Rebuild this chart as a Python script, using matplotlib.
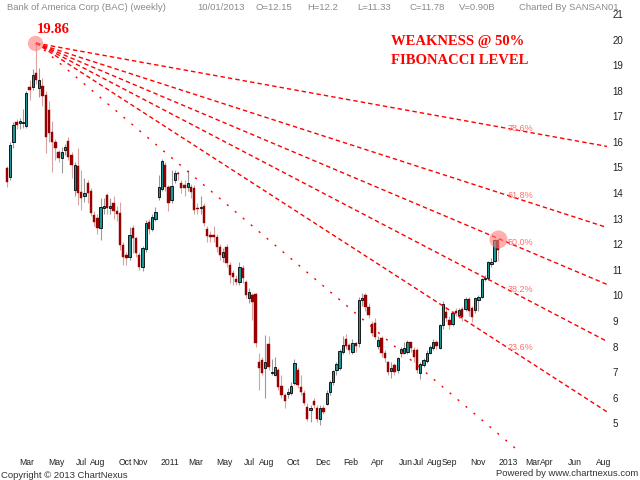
import matplotlib
matplotlib.use("Agg")
import matplotlib.pyplot as plt
import matplotlib.dates as mdates
import matplotlib.transforms as mtransforms
import numpy as np
import pandas as pd

# weekly BAC candles, week starting 2010-02-08
opens = [14.98, 14.63, 16.00, 16.78, 16.75, 16.72, 16.62, 18.15, 18.15, 18.70,
         18.11, 18.20, 17.83, 17.25, 16.40, 16.00, 15.60, 15.37, 15.70, 16.04,
         15.49, 14.12, 15.06, 14.04, 13.90, 14.39, 14.08, 13.14, 13.03, 12.63,
         13.40, 13.92, 13.42, 13.60, 13.30, 13.22, 11.97, 11.58, 11.50, 12.63,
         12.24, 11.58, 11.11, 11.81, 12.87, 12.60, 12.99, 13.85, 14.16, 15.10,
         14.24, 13.73, 14.51, 14.78, 14.39, 14.31, 14.24, 14.24, 14.20, 13.42,
         13.42, 13.49, 12.60, 12.36, 12.36, 12.28, 11.89, 11.50, 11.89, 11.19,
         10.87, 10.64, 10.52, 11.07, 10.52, 9.90, 10.00, 10.05, 7.40, 7.47,
         7.16, 8.10, 6.97, 6.89, 7.08, 6.46, 6.10, 6.14, 6.18, 6.57,
         7.08, 6.42, 6.18, 5.64, 5.52, 5.87, 5.60, 5.17, 5.60, 5.75,
         6.22, 6.61, 7.08, 7.16, 7.79, 8.30, 8.06, 7.79, 8.14, 8.14,
         9.82, 10.00, 9.55, 8.88, 8.92, 8.02, 8.33, 7.75, 7.40, 7.04,
         7.28, 7.08, 7.75, 7.75, 7.79, 8.18, 7.86, 7.86, 6.97, 7.28,
         7.44, 7.75, 7.94, 8.18, 7.94, 8.84, 9.35, 9.04, 8.88, 9.39,
         9.23, 9.47, 9.47, 9.86, 9.50, 9.43, 9.82, 9.94, 10.64, 10.68,
         11.22, 11.34, 12.15]
highs = [15.05, 16.00, 16.78, 16.90, 16.95, 17.30, 18.00, 18.40, 18.85, 19.86,
         18.90, 18.50, 18.00, 17.60, 16.80, 16.10, 15.70, 15.80, 15.90, 16.20,
         15.60, 15.20, 15.76, 14.90, 14.60, 14.50, 14.20, 13.30, 13.20, 13.80,
         13.80, 14.00, 13.80, 13.90, 13.50, 13.65, 12.10, 11.70, 12.67, 12.75,
         12.30, 11.70, 11.95, 12.95, 13.00, 13.20, 13.45, 14.70, 15.35, 15.20,
         14.30, 14.90, 14.90, 14.85, 14.50, 14.50, 14.90, 14.35, 14.30, 13.60,
         13.90, 13.60, 12.70, 12.50, 12.70, 12.40, 12.00, 11.85, 12.00, 11.30,
         11.00, 10.80, 11.30, 11.20, 10.60, 10.30, 10.10, 10.10, 7.75, 7.60,
         8.45, 8.42, 7.50, 7.60, 7.15, 6.90, 6.20, 6.40, 6.60, 7.50,
         7.20, 6.90, 6.30, 5.80, 5.72, 6.00, 5.70, 5.70, 5.70, 6.30,
         6.70, 7.10, 7.40, 7.90, 8.40, 8.50, 8.15, 8.30, 8.20, 9.95,
         10.10, 10.10, 9.70, 9.00, 9.10, 8.40, 8.40, 7.85, 7.45, 7.40,
         7.35, 7.60, 8.00, 8.20, 8.25, 8.20, 8.00, 7.95, 7.40, 7.55,
         7.85, 8.05, 8.30, 8.25, 8.90, 9.79, 9.50, 9.20, 9.40, 9.50,
         9.50, 9.55, 9.95, 9.95, 9.60, 9.95, 10.00, 10.70, 10.80, 11.35,
         11.45, 12.20, 12.20]
lows = [14.24, 14.50, 15.76, 16.50, 16.50, 16.55, 16.55, 17.64, 18.03, 18.25,
        17.76, 17.40, 15.57, 16.00, 14.82, 15.30, 15.20, 14.78, 15.50, 15.30,
        14.60, 13.90, 13.53, 13.34, 13.65, 13.60, 13.10, 12.70, 12.40, 12.16,
        13.20, 13.20, 13.20, 13.00, 12.90, 11.77, 11.19, 11.20, 11.38, 11.66,
        11.50, 11.00, 10.95, 11.70, 12.40, 12.50, 12.90, 13.73, 14.10, 14.10,
        13.30, 13.60, 14.40, 14.50, 14.00, 13.90, 14.10, 13.80, 13.20, 13.20,
        13.20, 12.70, 12.10, 12.10, 12.10, 11.70, 11.40, 11.30, 11.10, 10.50,
        10.40, 10.40, 10.40, 10.50, 9.90, 9.70, 9.04, 8.00, 6.30, 6.90,
        5.99, 7.10, 6.90, 6.85, 6.30, 6.00, 5.60, 6.00, 6.10, 6.50,
        6.40, 6.10, 5.70, 5.10, 5.05, 5.60, 5.05, 4.92, 5.35, 5.70,
        6.10, 6.50, 6.90, 7.10, 7.70, 7.90, 7.70, 7.70, 7.80, 8.00,
        9.60, 9.40, 9.10, 8.40, 8.30, 7.90, 7.60, 7.40, 6.90, 6.77,
        6.90, 6.95, 7.60, 7.70, 7.70, 7.80, 7.40, 6.95, 6.72, 7.20,
        7.35, 7.70, 7.85, 7.90, 7.90, 8.70, 9.00, 8.70, 8.80, 9.20,
        9.10, 9.00, 9.40, 9.20, 8.95, 9.30, 9.40, 9.90, 10.55, 10.60,
        11.10, 11.30, 11.33]
closes = [14.43, 15.88, 16.66, 16.68, 16.82, 16.78, 17.91, 18.03, 18.60, 18.40,
          18.42, 17.80, 16.20, 16.35, 16.00, 15.76, 15.37, 15.60, 15.80, 15.41,
          15.10, 15.10, 14.00, 13.80, 14.00, 14.00, 13.22, 12.87, 12.63, 13.45,
          13.50, 13.41, 13.50, 13.30, 13.20, 11.97, 11.50, 11.46, 12.36, 12.24,
          11.66, 11.11, 11.85, 12.83, 12.60, 13.06, 13.26, 14.24, 15.25, 14.24,
          13.61, 14.28, 14.78, 14.74, 14.20, 14.20, 14.39, 14.04, 13.34, 13.38,
          13.45, 12.83, 12.32, 12.28, 12.30, 11.89, 11.58, 11.70, 11.27, 10.80,
          10.72, 10.52, 11.11, 10.68, 10.00, 10.13, 9.74, 8.14, 7.16, 6.97,
          7.40, 7.20, 7.02, 7.20, 6.42, 6.10, 5.87, 6.22, 6.46, 7.36,
          6.50, 6.22, 5.79, 5.17, 5.60, 5.72, 5.17, 5.60, 5.44, 6.18,
          6.61, 7.04, 7.32, 7.82, 8.06, 8.02, 7.86, 8.14, 8.02, 9.82,
          9.90, 9.55, 9.23, 8.53, 8.37, 8.26, 7.75, 7.55, 7.00, 7.16,
          7.00, 7.55, 7.90, 7.94, 8.18, 7.94, 7.59, 7.08, 7.32, 7.47,
          7.75, 7.98, 8.18, 8.02, 8.84, 9.66, 9.11, 8.84, 9.31, 9.31,
          9.43, 9.15, 9.86, 9.39, 9.15, 9.90, 9.94, 10.64, 10.68, 11.30,
          11.30, 12.16, 11.78]

weeks = pd.date_range("2010-02-08", periods=len(opens), freq="7D")

fib_levels = [0.0, 0.236, 0.382, 0.5, 0.618, 0.786]
fan_floor = 1.0

y_ticks = list(range(5, 22))
x_tick_dates = ["2010-03-01", "2010-05-01", "2010-07-01", "2010-08-01", "2010-10-01",
                "2010-11-01", "2011-01-01", "2011-03-01", "2011-05-01", "2011-07-01",
                "2011-08-01", "2011-10-01", "2011-12-01", "2012-02-01", "2012-04-01",
                "2012-06-01", "2012-07-01", "2012-08-01", "2012-09-01", "2012-11-01",
                "2013-01-01", "2013-03-01", "2013-04-01", "2013-06-01", "2013-08-01"]
x_tick_labels = ["Mar", "May", "Jul", "Aug", "Oct", "Nov", "2011", "Mar", "May", "Jul",
                 "Aug", "Oct", "Dec", "Feb", "Apr", "Jun", "Jul", "Aug", "Sep", "Nov",
                 "2013", "Mar", "Apr", "Jun", "Aug"]

plt.rcParams["font.family"] = ["Liberation Sans", "DejaVu Sans"]

W, H = 640, 480
fig = plt.figure(figsize=(6.4, 4.8), dpi=100, facecolor="white")
ax = fig.add_axes([0, 1 - 450 / H, 607 / W, 445 / H])

x = mdates.date2num(weeks)
o = np.array(opens)
c = np.array(closes)
hi = np.array(highs)
lo = np.array(lows)
up = c >= o

teal = "#1b9696"
dred = "#990000"

# wicks
ax.vlines(x[up], lo[up], hi[up], color="#9a9a9a", lw=0.8, zorder=2)
ax.vlines(x[~up], lo[~up], hi[~up], color="#d9a3a3", lw=0.8, zorder=2)

# bodies
body_h = np.maximum(np.abs(c - o), 0.04)
body_b = np.minimum(o, c)
ax.bar(x[up], body_h[up], bottom=body_b[up], width=5, color=teal,
       edgecolor="black", linewidth=0.6, zorder=3)
ax.bar(x[~up], body_h[~up], bottom=body_b[~up], width=5, color=dred,
       edgecolor=dred, linewidth=0.3, zorder=3)

x_left = x[0] - 15
x_right = x[0] + 185.8 * 7
ax.set_xlim(x_left, x_right)
ax.set_ylim(3.96, 21.35)

# fibonacci fan from the peak
pk = int(np.argmax(hi))
peak = hi[pk]
for r in fib_levels:
    y_end = fan_floor + r * (peak - fan_floor)
    dash = (1.5, 6) if r == 0 else (3.2, 2.2)
    ax.plot([x[pk], x_right], [peak, y_end], color="red", lw=1.0,
            dashes=dash, zorder=4)
    if r > 0:
        xl = x[0] + 155.1 * 7
        yl = peak + (y_end - peak) * (xl - x[pk]) / (x_right - x[pk])
        ax.text(xl, yl, f"{r * 100:.1f}%", color="#ff7070", fontsize=6.5,
                ha="left", va="center", zorder=5)

ax.plot(x[pk] - 3, peak, "o", ms=11, color="#ff7b7b", alpha=0.6, mec="none", zorder=6)
ax.plot(x[-1], hi[-1], "o", ms=13, color="#ff7b7b", alpha=0.6, mec="none", zorder=6)
ax.annotate(f"{peak:.2f}", xy=(x[pk], peak), xytext=(0.5, 9.5),
            textcoords="offset points", color="red", fontsize=10.5,
            fontweight="bold", family="Liberation Serif", ha="left", va="center")

for s in ax.spines.values():
    s.set_visible(False)
ax.yaxis.tick_right()
ax.set_yticks(y_ticks)
ax.tick_params(axis="y", length=0, pad=4, labelsize=7, labelcolor="#222222")
ax.set_xticks(mdates.date2num(pd.to_datetime(x_tick_dates)))
ax.set_xticklabels(x_tick_labels, ha="left")
ax.tick_params(axis="x", length=0, pad=6, labelsize=6.2, labelcolor="#222222")
shift = mtransforms.ScaledTranslation(3 / 100, 0, fig.dpi_scale_trans)
for lab in ax.get_xticklabels():
    lab.set_transform(lab.get_transform() + shift)


def ftext(px, py, s, **kw):
    fig.text(px / W, 1 - py / H, s, **kw)


head = [(7, "Bank of America Corp (BAC) (weekly)"), (197, "10/01/2013"),
        (255, "O=12.15"), (307, "H=12.2"), (357, "L=11.33"), (409, "C=11.78"),
        (459, "V=0.90B"), (519, "Charted By SANSAN01")]
for px, s in head:
    ftext(px, 7, s, fontsize=6.8, color="#8a8a8a", va="center", ha="left")

ftext(391, 42, "WEAKNESS @ 50%", fontsize=10.5, color="red", fontweight="bold",
      family="Liberation Serif", va="center", ha="left")
ftext(391, 61, "FIBONACCI LEVEL", fontsize=10.5, color="red", fontweight="bold",
      family="Liberation Serif", va="center", ha="left")

ftext(1, 475, "Copyright \u00a9 2013 ChartNexus", fontsize=6.8, color="#333333",
      va="center", ha="left")
ftext(638, 474, "Powered by www.chartnexus.com", fontsize=6.8, color="#333333",
      va="center", ha="right")

fig.savefig("out.png", dpi=100, facecolor="white")
